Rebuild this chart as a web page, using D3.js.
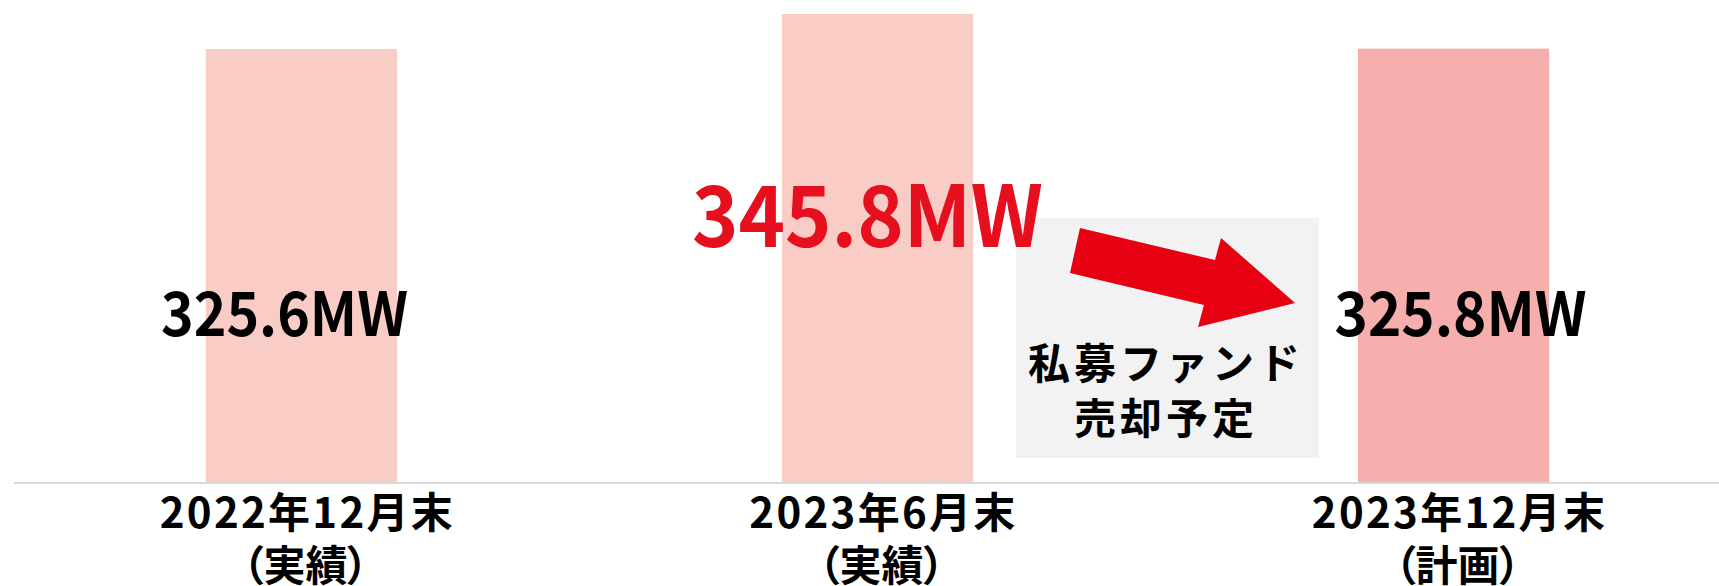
<!DOCTYPE html>
<html>
<head>
<meta charset="utf-8">
<script src="https://cdn.jsdelivr.net/npm/d3@7"></script>
<style>
  body { margin: 0; background: #fff; }
  svg { display: block; font-family: "Noto Sans CJK JP", "Noto Sans", sans-serif; font-weight: 700; }
  .note-line { font-feature-settings: "palt"; }
</style>
</head>
<body>
<div id="chart"></div>
<script>
// chart data
const periods = ["2022年12月末", "2023年6月末", "2023年12月末"];
const periodNotes = ["（実績）", "（実績）", "（計画）"];
const capacityMW = [325.6, 345.8, 325.8];
const noteLines = ["私募ファンド", "売却予定"];

const width = 1719, height = 586;
const baseY = 483; // x axis line

const svg = d3.select("#chart")
    .append("svg")
    .attr("width", width)
    .attr("height", height);

const x = d3.scaleBand()
    .domain(periods)
    .range([14, 1741])
    .paddingInner(0.668)
    .paddingOuter(0.333);

// the original axis does not start at zero
const y = d3.scaleLinear()
    .domain([75, 345.8])
    .range([baseY, 14]);

const barColor = d3.scaleOrdinal()
    .domain(periods)
    .range(["#f9cdc5", "#f9cdc5", "#f7afad"]);

svg.selectAll("rect.bar")
    .data(periods)
    .enter()
    .append("rect")
    .attr("class", "bar")
    .attr("x", d => x(d))
    .attr("width", x.bandwidth())
    .attr("y", (d, i) => y(capacityMW[i]))
    .attr("height", (d, i) => baseY - y(capacityMW[i]))
    .attr("fill", d => barColor(d));

// baseline
svg.append("line")
    .attr("x1", 14).attr("x2", width)
    .attr("y1", baseY).attr("y2", baseY)
    .attr("stroke", "#d9d9d9")
    .attr("stroke-width", 2);

// annotation: grey box with the arrow and note (drawn before the value labels)
const box = { x: 1016, y: 218, w: 303, h: 240 };
const note = svg.append("g").attr("transform", `translate(${box.x},${box.y})`);
note.append("rect")
    .attr("width", box.w)
    .attr("height", box.h)
    .attr("fill", "#f2f2f2");

const arrowPts = [[64, 10], [199, 42], [205, 20], [279, 85], [182, 109], [188, 87], [54, 55]];
note.append("path")
    .attr("d", d3.line()(arrowPts) + "Z")
    .attr("fill", "#e60012");

note.selectAll("text")
    .data(noteLines)
    .enter()
    .append("text")
    .attr("x", 150)
    .attr("y", (d, i) => 161 + i * 55)
    .attr("text-anchor", "middle")
    .attr("font-size", 42)
    .attr("letter-spacing", 4)
    .attr("fill", "#000")
    .text(d => d);

// category labels (two lines)
const xAxis = svg.append("g").attr("class", "x-labels");
xAxis.selectAll("text.period")
    .data(periods)
    .enter()
    .append("text")
    .attr("class", "period")
    .attr("x", d => x(d) + x.bandwidth() / 2 + 6)
    .attr("y", 528)
    .attr("text-anchor", "middle")
    .attr("font-size", 42)
    .attr("letter-spacing", 2.3)
    .attr("fill", "#000")
    .text(d => d);
xAxis.selectAll("text.note")
    .data(periodNotes)
    .enter()
    .append("text")
    .attr("class", "note-line")
    .attr("x", (d, i) => x(periods[i]) + x.bandwidth() / 2 + 4)
    .attr("y", 581)
    .attr("text-anchor", "middle")
    .attr("font-size", 42)
    .attr("fill", "#000")
    .text(d => d);

// value labels - the middle one is highlighted
const labelShift = [-17, -10, 7];
const labelWidth = [247, 351, 252];
svg.selectAll("text.value")
    .data(capacityMW)
    .enter()
    .append("text")
    .attr("class", "value")
    .attr("x", (d, i) => x(periods[i]) + x.bandwidth() / 2 + labelShift[i])
    .attr("y", (d, i) => i === 1 ? 247 : 336)
    .attr("text-anchor", "middle")
    .attr("font-size", (d, i) => i === 1 ? 85 : 61)
    .attr("textLength", (d, i) => labelWidth[i])
    .attr("lengthAdjust", "spacingAndGlyphs")
    .attr("fill", (d, i) => i === 1 ? "#e60f1e" : "#000")
    .text(d => d3.format(".1f")(d) + "MW");
</script>
</body>
</html>
